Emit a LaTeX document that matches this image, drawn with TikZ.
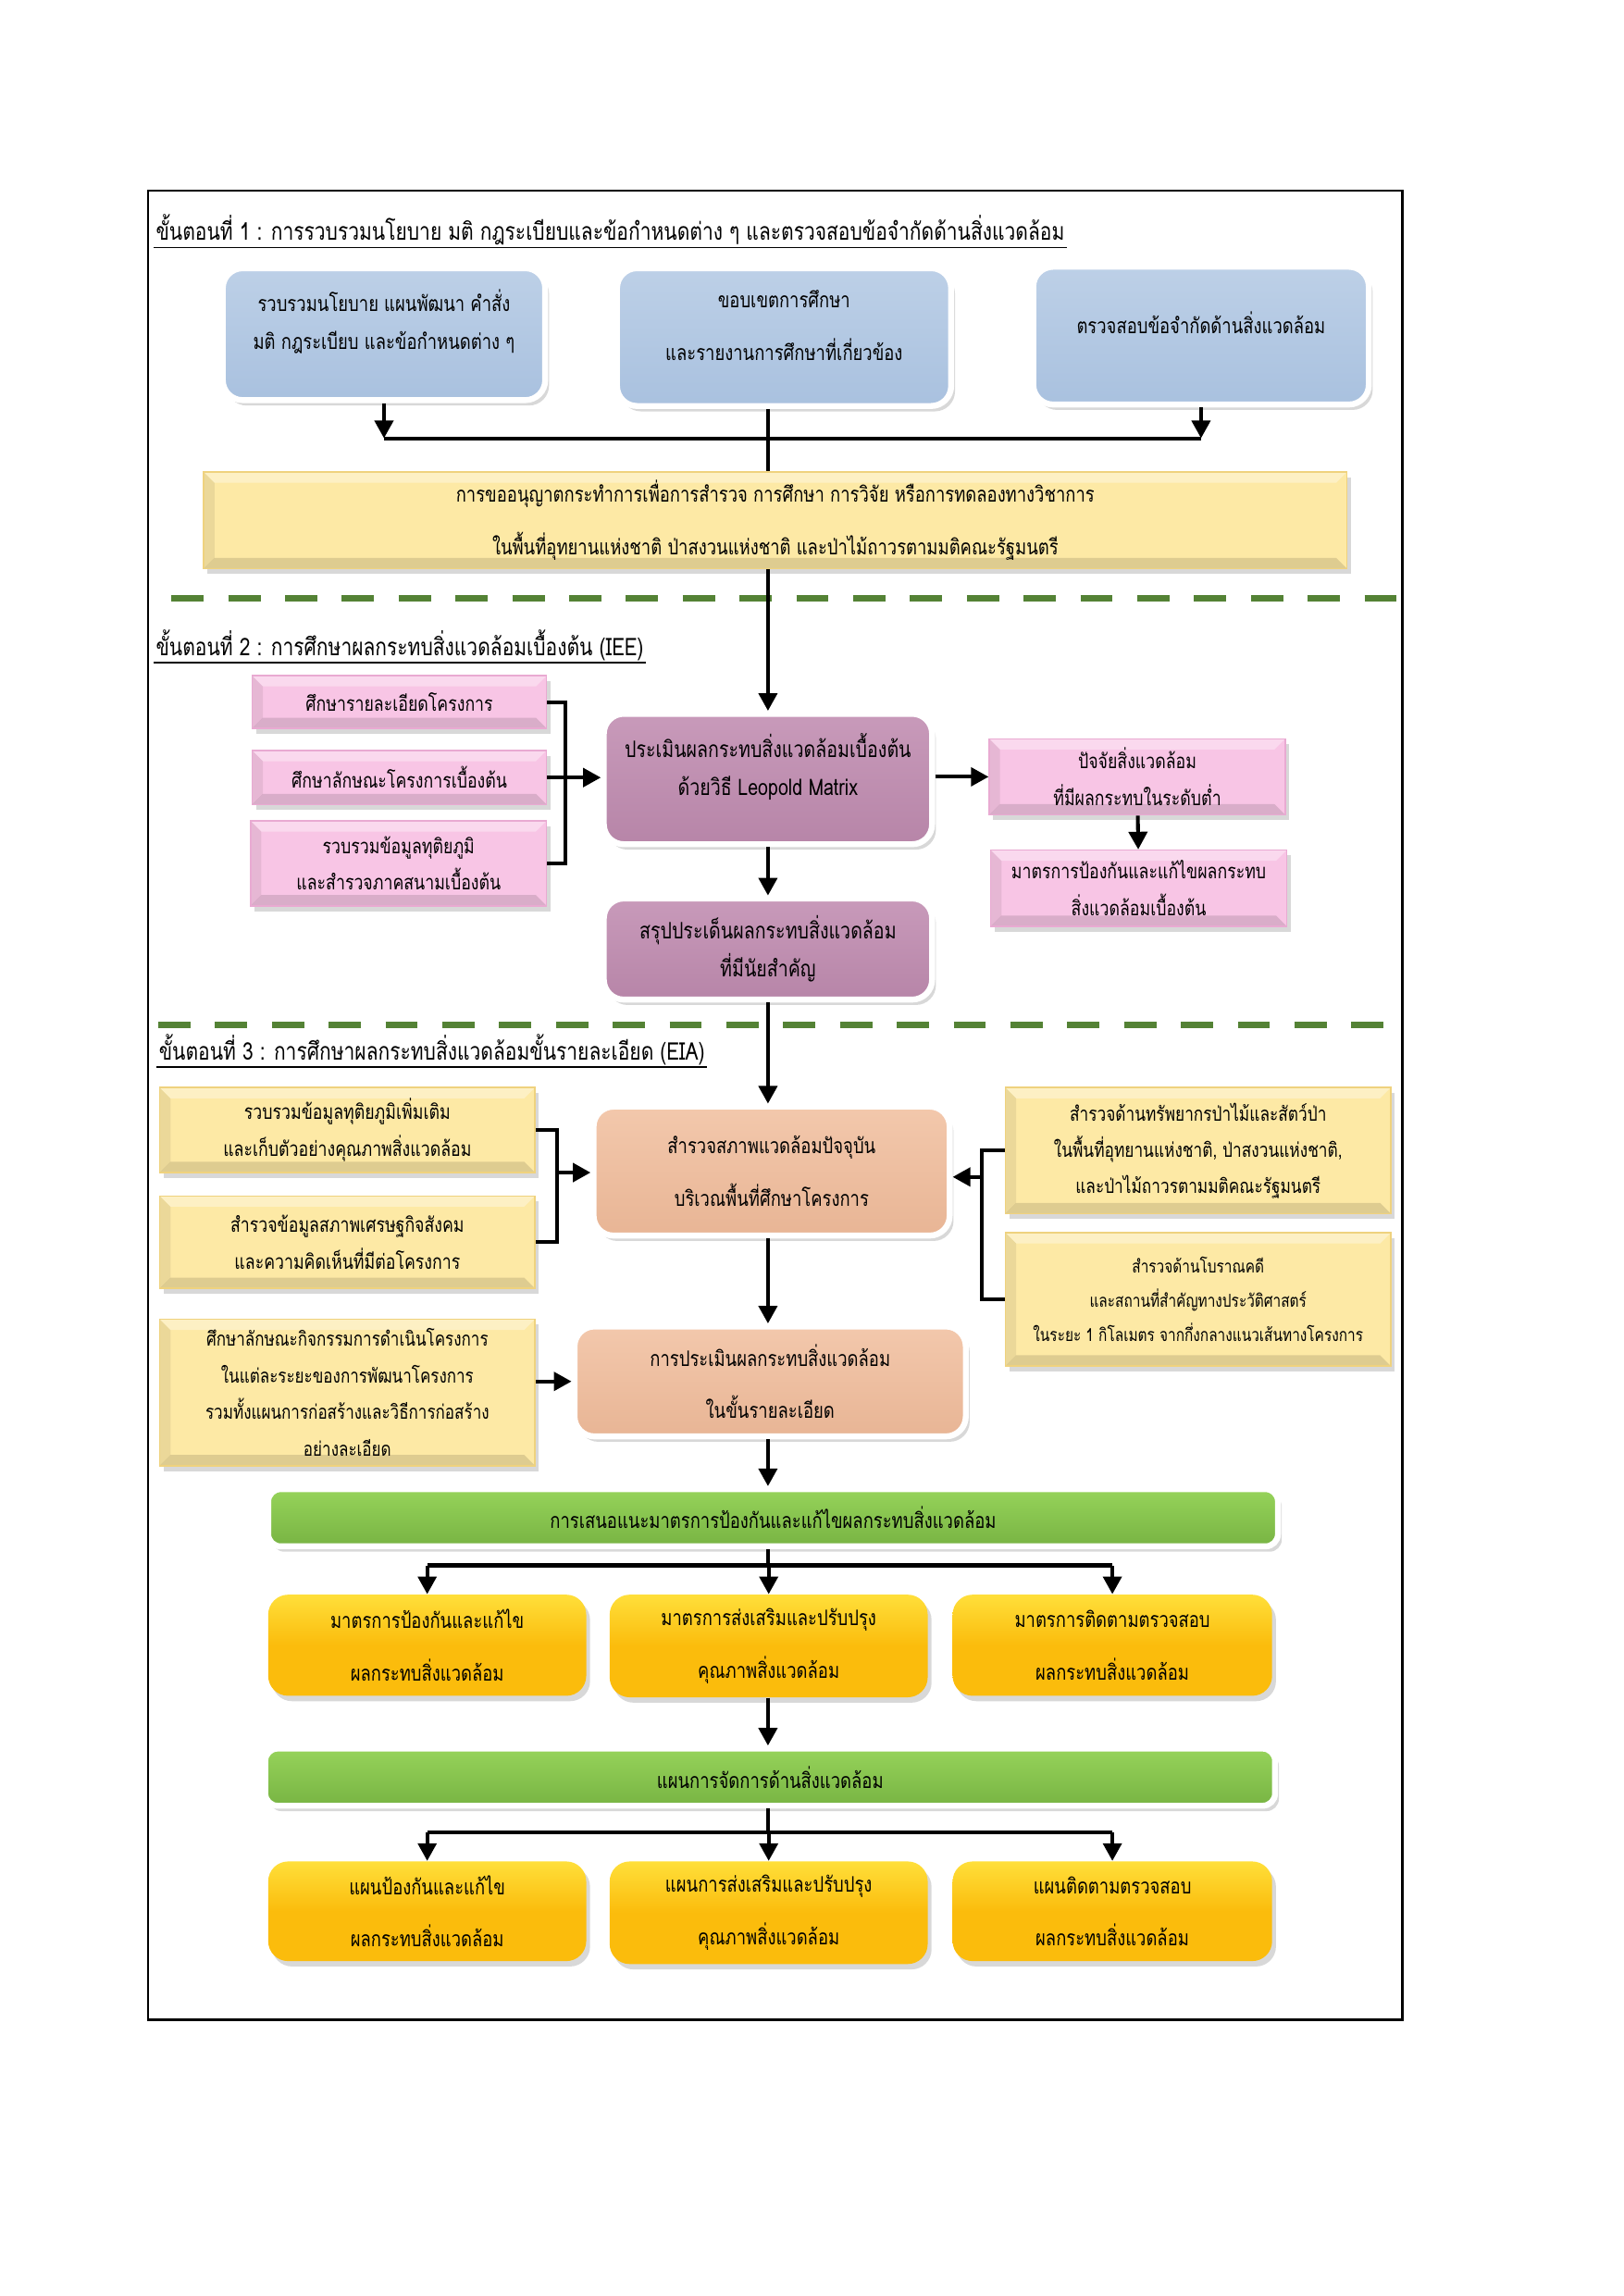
\documentclass[tikz,border=0pt]{standalone}
\usepackage{fontspec}
\usepackage{xcolor}
\newfontfamily\thaifont[Script=Thai, FakeStretch=0.8]{Loma}
\definecolor{blueA}{HTML}{BDD0E7}
\definecolor{blueB}{HTML}{A9C1DF}
\definecolor{pinkA}{HTML}{F8C5E5}
\definecolor{pinkB}{HTML}{E9AAD2}
\definecolor{mauveA}{HTML}{C89ABA}
\definecolor{mauveB}{HTML}{B785A8}
\definecolor{yellowA}{HTML}{FDE9A5}
\definecolor{yellowB}{HTML}{EFD27E}
\definecolor{peachA}{HTML}{F3C8AC}
\definecolor{peachB}{HTML}{E8B595}
\definecolor{greenA}{HTML}{96D35A}
\definecolor{greenB}{HTML}{78B443}
\definecolor{goldA}{HTML}{FFDF3A}
\definecolor{goldB}{HTML}{FBBC0C}
\definecolor{dashgreen}{HTML}{548235}
\usetikzlibrary{arrows.meta,shadows,calc}

\tikzset{
  boxsize/.style 2 args={minimum width=#1*0.190909mm, minimum height=#2*0.190909mm},
  liftup/.style={text depth=#1},
  boxtext/.style={font=\thaifont\fontsize{7.9}{14}\selectfont, align=center, inner sep=0pt},
  smalltext/.style={font=\thaifont\fontsize{7.6}{13.6}\selectfont},
  shadowed/.style={drop shadow={opacity=0.3, shadow xshift=0.5mm, shadow yshift=-0.7mm}},
  glowbox/.style={boxtext, shadowed, rounded corners=2.6mm, draw=white, line width=2.2pt},
  bevel/.style={boxtext, smalltext, shadowed, draw=#1, line width=0.5pt,
    path picture={
      \fill[black, opacity=0.07] (path picture bounding box.north west) -- ++(1.4mm,-1.4mm)
        -- ($(path picture bounding box.south west)+(1.4mm,1.4mm)$) -- (path picture bounding box.south west) -- cycle;
      \fill[black, opacity=0.12] (path picture bounding box.south west) -- ++(1.4mm,1.4mm)
        -- ($(path picture bounding box.south east)+(-1.4mm,1.4mm)$) -- (path picture bounding box.south east) -- cycle;
      \fill[white, opacity=0.35] (path picture bounding box.north west) -- ++(1.4mm,-1.4mm)
        -- ($(path picture bounding box.north east)+(-1.4mm,-1.4mm)$) -- (path picture bounding box.north east) -- cycle;
    }},
  bluebox/.style={glowbox, top color=blueA, bottom color=blueB},
  mauvebox/.style={glowbox, font=\thaifont\fontsize{8.4}{14}\selectfont, top color=mauveA, bottom color=mauveB},
  peachbox/.style={glowbox, top color=peachA, bottom color=peachB},
  greenbar/.style={glowbox, rounded corners=1.6mm, top color=greenA, bottom color=greenB},
  goldbox/.style={boxtext, shadowed, rounded corners=2.6mm, top color=goldA, bottom color=goldB, middle color=goldB},
  pinkbox/.style={bevel=pinkB, fill=pinkA},
  yellowbox/.style={bevel=yellowB, fill=yellowA},
  stagehead/.style={font=\thaifont\fontsize{9}{12}\selectfont, anchor=west, inner sep=0.6pt},
  conn/.style={line width=1.4pt},
  arr/.style={conn, -{Triangle[length=2.3mm, width=2.4mm]}},
  stagesplit/.style={dashgreen, line width=2.4pt, dash pattern=on 4.2mm off 3.2mm}
}

\begin{document}
\begin{tikzpicture}[x=0.190909mm, y=-0.190909mm]
    \useasboundingbox (0,0) rectangle (1107.5,1566.5);
    \fill[white] (0,0) rectangle (1107.5,1566.5);

    % Outer frame
    \draw[line width=0.9pt] (101,130) rectangle (957,1378);

    % Stage 1
    \node[stagehead] (h1) at (105,157) {ขั้นตอนที่ 1 : การรวบรวมนโยบาย มติ กฎระเบียบและข้อกำหนดต่าง ๆ และตรวจสอบข้อจำกัดด้านสิ่งแวดล้อม};
    \draw[line width=0.5pt] (h1.south west) -- (h1.south east);

    \node[bluebox, liftup=3.8mm, boxsize={220}{90}] (b1) at (262,228) {รวบรวมนโยบาย แผนพัฒนา คำสั่ง\\มติ กฎระเบียบ และข้อกำหนดต่าง ๆ};
    \node[bluebox, liftup=3.1mm, boxsize={228}{94}] (b2) at (535,230) {ขอบเขตการศึกษา\\[5.5pt]และรายงานการศึกษาที่เกี่ยวข้อง};
    \node[bluebox, liftup=3.4mm, boxsize={229}{94}] (b3) at (819.5,229) {ตรวจสอบข้อจำกัดด้านสิ่งแวดล้อม};

    \node[yellowbox, font=\thaifont\fontsize{7.9}{14}\selectfont, boxsize={780}{66}] (y0) at (529,355) {การขออนุญาตกระทำการเพื่อการสำรวจ การศึกษา การวิจัย หรือการทดลองทางวิชาการ\\[5.5pt]ในพื้นที่อุทยานแห่งชาติ ป่าสงวนแห่งชาติ และป่าไม้ถาวรตามมติคณะรัฐมนตรี};

    % Joining bar under stage 1
    \coordinate (bar1) at (524,299);
    \draw[arr] (b1.south) -- (b1.south |- bar1);
    \draw[arr] (b3.south) -- (b3.south |- bar1);
    \draw[conn] (b1.south |- bar1) -- (b3.south |- bar1);
    \draw[conn] (b2.south -| bar1) -- (y0.north -| bar1);

    \draw[stagesplit] (117,408) -- (957,408);

    % Stage 2
    \node[stagehead] (h2) at (105,440) {ขั้นตอนที่ 2 : การศึกษาผลกระทบสิ่งแวดล้อมเบื้องต้น (IEE)};
    \draw[line width=0.5pt] (h2.south west) -- (h2.south east);

    \node[pinkbox, boxsize={201}{36}] (p1) at (272.5,479) {ศึกษารายละเอียดโครงการ};
    \node[pinkbox, boxsize={201}{37}] (p2) at (272.5,530.5) {ศึกษาลักษณะโครงการเบื้องต้น};
    \node[pinkbox, boxsize={202}{58}] (p3) at (272,589) {รวบรวมข้อมูลทุติยภูมิ\\และสำรวจภาคสนามเบื้องต้น};

    \node[mauvebox, liftup=3.8mm, boxsize={224}{89}] (m1) at (524,531.5) {ประเมินผลกระทบสิ่งแวดล้อมเบื้องต้น\\ด้วยวิธี Leopold Matrix};
    \node[mauvebox, boxsize={224}{69}] (m2) at (524,647.5) {สรุปประเด็นผลกระทบสิ่งแวดล้อม\\ที่มีนัยสำคัญ};

    \node[pinkbox, boxsize={202}{52}] (r1) at (776,530) {ปัจจัยสิ่งแวดล้อม\\ที่มีผลกระทบในระดับต่ำ};
    \node[pinkbox, boxsize={202}{52}] (r2) at (777,606) {มาตรการป้องกันและแก้ไขผลกระทบ\\สิ่งแวดล้อมเบื้องต้น};

    \draw[arr] (y0.south -| m1) -- (m1.north);
    \coordinate (brp) at (386,530);
    \draw[conn] (p1.east) -| (brp) |- (p3.east);
    \draw[arr] (p2.east) -- (p2.east -| m1.west);
    \draw[arr] (m1.east |- r1.west) -- (r1.west);
    \draw[arr] (r1) -- (r2);
    \draw[arr] (m1) -- (m2);

    \draw[stagesplit] (108,699) -- (950,699);

    % Stage 3
    \node[stagehead] (h3) at (107,716) {ขั้นตอนที่ 3 : การศึกษาผลกระทบสิ่งแวดล้อมขั้นรายละเอียด (EIA)};
    \draw[line width=0.5pt] (h3.south west) -- (h3.south east);

    \node[yellowbox, boxsize={256}{58}] (l1) at (237,771) {รวบรวมข้อมูลทุติยภูมิเพิ่มเติม\\และเก็บตัวอย่างคุณภาพสิ่งแวดล้อม};
    \node[yellowbox, boxsize={256}{63}] (l2) at (237,847.5) {สำรวจข้อมูลสภาพเศรษฐกิจสังคม\\และความคิดเห็นที่มีต่อโครงการ};
    \node[yellowbox, font=\thaifont\fontsize{7.3}{13.6}\selectfont, boxsize={256}{100}] (l3) at (237,950) {ศึกษาลักษณะกิจกรรมการดำเนินโครงการ\\ในแต่ละระยะของการพัฒนาโครงการ\\รวมทั้งแผนการก่อสร้างและวิธีการก่อสร้าง\\อย่างละเอียด};

    \node[peachbox, boxsize={243}{88}] (s1) at (526.5,799) {สำรวจสภาพแวดล้อมปัจจุบัน\\[5.5pt]บริเวณพื้นที่ศึกษาโครงการ};
    \node[peachbox, boxsize={267}{75}] (e1) at (525.5,942.5) {การประเมินผลกระทบสิ่งแวดล้อม\\[5.5pt]ในขั้นรายละเอียด};

    \node[yellowbox, font=\thaifont\fontsize{7.4}{13.4}\selectfont, boxsize={263}{86}] (rr1) at (817.5,785) {สำรวจด้านทรัพยากรป่าไม้และสัตว์ป่า\\ในพื้นที่อุทยานแห่งชาติ, ป่าสงวนแห่งชาติ,\\และป่าไม้ถาวรตามมติคณะรัฐมนตรี};
    \node[yellowbox, font=\thaifont\fontsize{6.6}{12.8}\selectfont, boxsize={263}{91}] (rr2) at (817.5,886.5) {สำรวจด้านโบราณคดี\\และสถานที่สำคัญทางประวัติศาสตร์\\ในระยะ 1 กิโลเมตร จากกึ่งกลางแนวเส้นทางโครงการ};

    \draw[arr] (m2) -- (m2 |- s1.north);
    \coordinate (brl) at (380,800);
    \draw[conn] (l1.east) -| (brl) |- (l2.east);
    \draw[arr] (brl) -- (s1.west |- brl);
    \coordinate (brr) at (670,803);
    \draw[conn] (rr1.west) -| (brr) |- (rr2.west);
    \draw[arr] (brr) -- (s1.east |- brr);
    \draw[arr] (s1.south -| m1) -- (e1.north -| m1);
    \draw[arr] (e1.west -| l3.east) -- (e1.west);

    % Measures
    \node[greenbar, boxsize={689}{39}] (g1) at (527.5,1035.5) {การเสนอแนะมาตรการป้องกันและแก้ไขผลกระทบสิ่งแวดล้อม};
    \node[goldbox, boxsize={217}{69}] (o1) at (291.5,1122.5) {มาตรการป้องกันและแก้ไข\\[5.5pt]ผลกระทบสิ่งแวดล้อม};
    \node[goldbox, boxsize={217}{70}] (o2) at (524.5,1123) {มาตรการส่งเสริมและปรับปรุง\\[5.5pt]คุณภาพสิ่งแวดล้อม};
    \node[goldbox, boxsize={218}{69}] (o3) at (759,1122.5) {มาตรการติดตามตรวจสอบ\\[5.5pt]ผลกระทบสิ่งแวดล้อม};

    \draw[arr] (e1.south -| m1) -- (g1.north -| m1);
    \coordinate (bar2) at (524,1068);
    \draw[conn] (g1.south -| bar2) -- (bar2);
    \draw[conn] (o1.north |- bar2) -- (o3.north |- bar2);
    \foreach \n in {o1,o2,o3}
        \draw[arr] (\n.north |- bar2) -- (\n.north);

    % Management plan
    \node[greenbar, boxsize={689}{39}] (g2) at (525.5,1212.5) {แผนการจัดการด้านสิ่งแวดล้อม};
    \node[goldbox, boxsize={217}{68}] (q1) at (291.5,1304) {แผนป้องกันและแก้ไข\\[5.5pt]ผลกระทบสิ่งแวดล้อม};
    \node[goldbox, boxsize={217}{70}] (q2) at (524.5,1305) {แผนการส่งเสริมและปรับปรุง\\[5.5pt]คุณภาพสิ่งแวดล้อม};
    \node[goldbox, boxsize={218}{68}] (q3) at (759,1304) {แผนติดตามตรวจสอบ\\[5.5pt]ผลกระทบสิ่งแวดล้อม};

    \draw[arr] (o2.south -| m1) -- (g2.north -| m1);
    \coordinate (bar3) at (524,1250);
    \draw[conn] (g2.south -| bar3) -- (bar3);
    \draw[conn] (q1.north |- bar3) -- (q3.north |- bar3);
    \foreach \n in {q1,q2,q3}
        \draw[arr] (\n.north |- bar3) -- (\n.north);
\end{tikzpicture}
\end{document}
